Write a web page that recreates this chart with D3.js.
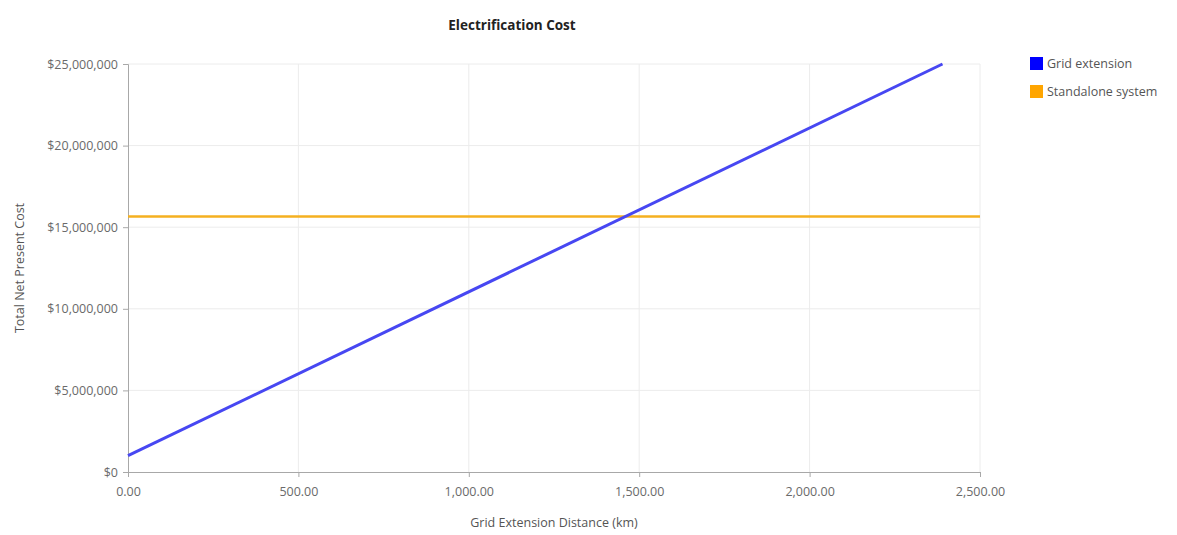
<!DOCTYPE html>
<html>
<head>
<meta charset="utf-8">
<script src="https://cdn.jsdelivr.net/npm/d3@7"></script>
<style>
  html, body { margin: 0; padding: 0; background: #fff; }
  svg { display: block; font-family: "Open Sans", "Noto Sans", sans-serif; }
</style>
</head>
<body>
<svg id="chart" width="1177" height="535"></svg>
<script>
// Series: grid extension cost grows with distance, standalone cost is flat
const gridDistance = [0, 2390];
const gridCost = [1000000, 25000000];
const standaloneDistance = [0, 2500];
const standaloneCost = [15650000, 15650000];

const xTicks = [0, 500, 1000, 1500, 2000, 2500];
const yTicks = [0, 5000000, 10000000, 15000000, 20000000, 25000000];

const seriesNames = ["Grid extension", "Standalone system"];
const seriesColors = ["#4747f2", "#f5b020"];
const legendColors = ["#0000ff", "#ffa500"];

const svg = d3.select("#chart");
const margin = { left: 128, right: 197, top: 64, bottom: 63 };
const W = 1177, H = 535;

const x = d3.scaleLinear().domain([0, 2500]).range([margin.left, W - margin.right]);
const y = d3.scaleLinear().domain([0, 25000000]).range([H - margin.bottom, margin.top]);

const fmtX = d3.format(",.2f");
const fmtY = v => "$" + d3.format(",")(v);

// gridlines
svg.append("g").selectAll("line").data(yTicks.slice(1)).join("line")
  .attr("x1", x(0)).attr("x2", x(2500))
  .attr("y1", d => y(d)).attr("y2", d => y(d))
  .attr("stroke", "#ececec").attr("stroke-width", 1);
svg.append("g").selectAll("line").data(xTicks.slice(1)).join("line")
  .attr("x1", d => x(d)).attr("x2", d => x(d))
  .attr("y1", y(0)).attr("y2", y(25000000))
  .attr("stroke", "#ececec").attr("stroke-width", 1);

// axes
const xAxis = svg.append("g")
  .attr("transform", `translate(0,${y(0)})`)
  .call(d3.axisBottom(x).tickValues(xTicks).tickFormat(fmtX).tickSize(5).tickPadding(10));
const yAxis = svg.append("g")
  .attr("transform", `translate(${x(0)},0)`)
  .call(d3.axisLeft(y).tickValues(yTicks).tickFormat(fmtY).tickSize(5).tickPadding(5));
[xAxis, yAxis].forEach(a => {
  a.select(".domain").attr("stroke", "#a8a8a8");
  a.selectAll(".tick line").attr("stroke", "#a8a8a8");
  a.selectAll(".tick text").attr("fill", "#6a6a6a").attr("font-size", 12.5)
    .attr("font-family", "\"Open Sans\", sans-serif");
});

// lines
const line = d3.line().x(d => x(d[0])).y(d => y(d[1]));
svg.append("path")
  .datum(standaloneDistance.map((d, i) => [d, standaloneCost[i]]))
  .attr("d", line).attr("fill", "none")
  .attr("stroke", seriesColors[1]).attr("stroke-width", 2.5);
svg.append("path")
  .datum(gridDistance.map((d, i) => [d, gridCost[i]]))
  .attr("d", line).attr("fill", "none")
  .attr("stroke", seriesColors[0]).attr("stroke-width", 3);

// title
svg.append("text").attr("x", 512).attr("y", 30).attr("text-anchor", "middle")
  .attr("font-size", 13.5).attr("font-weight", "bold").attr("fill", "#222")
  .text("Electrification Cost");

// axis titles
svg.append("text").attr("x", x(1250)).attr("y", 527).attr("text-anchor", "middle")
  .attr("font-size", 12.5).attr("fill", "#555")
  .text("Grid Extension Distance (km)");
svg.append("text")
  .attr("transform", `translate(24,${(y(0) + y(25000000)) / 2}) rotate(-90)`)
  .attr("text-anchor", "middle").attr("font-size", 12.5).attr("fill", "#555")
  .text("Total Net Present Cost");

// legend
const legend = svg.append("g").attr("transform", "translate(1030,57)");
seriesNames.forEach((name, i) => {
  const g = legend.append("g").attr("transform", `translate(0,${i * 28})`);
  g.append("rect").attr("width", 13).attr("height", 13).attr("fill", legendColors[i]);
  g.append("text").attr("x", 17).attr("y", 11).attr("font-size", 12.5).attr("fill", "#555")
    .text(name);
});
</script>
</body>
</html>
